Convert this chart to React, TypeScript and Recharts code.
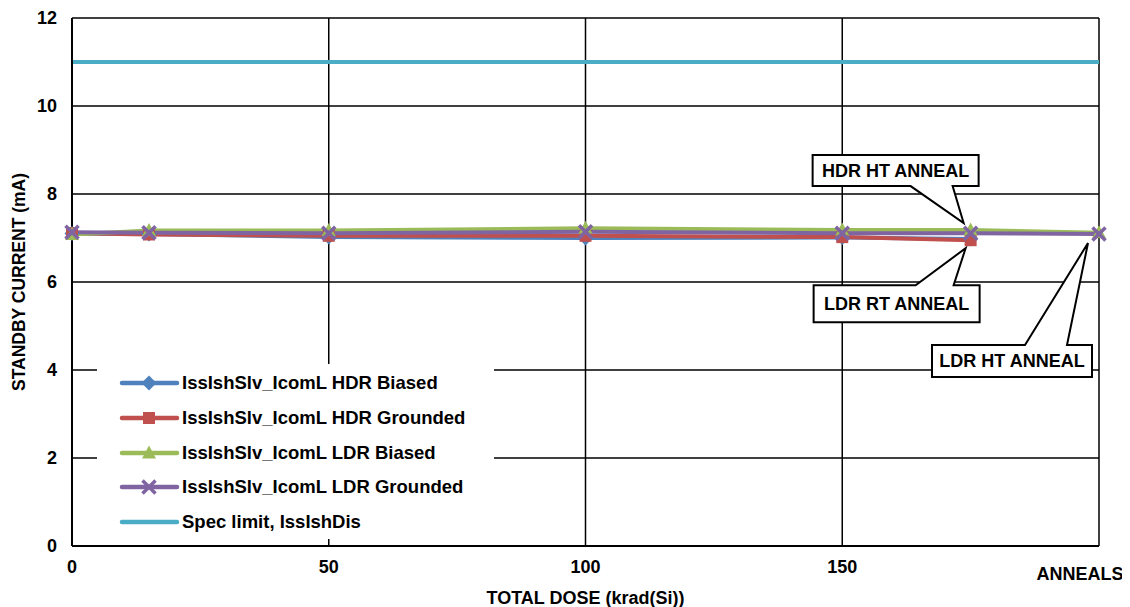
import React from 'react';
import { LineChart, Line, XAxis, YAxis, CartesianGrid, Legend, ReferenceDot } from 'recharts';

// ---- data ----
const doses = [0, 15, 50, 100, 150, 175, 200];
const hdrBiased = [7.1, 7.09, 7.02, 7.0, 7.01, 6.98, null];
const hdrGrounded = [7.11, 7.08, 7.05, 7.05, 7.02, 6.95, null];
const ldrBiased = [7.08, 7.17, 7.17, 7.22, 7.18, 7.18, 7.12];
const ldrGrounded = [7.13, 7.12, 7.11, 7.14, 7.11, 7.11, 7.09];
const specLimit = [11, 11, 11, 11, 11, 11, 11];

const seriesNames = [
  'IssIshSlv_IcomL HDR Biased',
  'IssIshSlv_IcomL HDR Grounded',
  'IssIshSlv_IcomL LDR Biased',
  'IssIshSlv_IcomL LDR Grounded',
  'Spec limit, IssIshDis',
];
const seriesKeys = ['hdrB', 'hdrG', 'ldrB', 'ldrG', 'spec'];
const seriesColors = ['#4F81BD', '#C0504D', '#9BBB59', '#8064A2', '#4BACC6'];

const xTicks = [0, 50, 100, 150, 200];
const xTickLabels = ['0', '50', '100', '150', 'ANNEALS'];
const yTicks = [0, 2, 4, 6, 8, 10, 12];

const annotations = [
  { text: 'HDR HT ANNEAL', x: 175, y: ldrBiased[5] },
  { text: 'LDR RT ANNEAL', x: 175, y: hdrGrounded[5] },
  { text: 'LDR HT ANNEAL', x: 200, y: ldrGrounded[6] },
];

const data = doses.map((d, i) => ({
  dose: d,
  hdrB: hdrBiased[i],
  hdrG: hdrGrounded[i],
  ldrB: ldrBiased[i],
  ldrG: ldrGrounded[i],
  spec: specLimit[i],
}));

const FONT = "'Liberation Sans', Arial, sans-serif";

// ---- markers ----
const marker = (idx: number, cx: number, cy: number, key?: any) => {
  const c = seriesColors[idx];
  if (cx == null || cy == null || isNaN(cx) || isNaN(cy)) return <g key={key} />;
  if (idx === 0)
    return <path key={key} d={`M${cx},${cy - 7.5}L${cx + 7.5},${cy}L${cx},${cy + 7.5}L${cx - 7.5},${cy}Z`} fill={c} />;
  if (idx === 1) return <rect key={key} x={cx - 6} y={cy - 6} width={12} height={12} fill={c} />;
  if (idx === 2) return <path key={key} d={`M${cx},${cy - 7.5}L${cx + 7},${cy + 5.5}L${cx - 7},${cy + 5.5}Z`} fill={c} />;
  if (idx === 3)
    return (
      <g key={key} stroke={c} strokeWidth={3.6}>
        <line x1={cx - 6.5} y1={cy - 6.5} x2={cx + 6.5} y2={cy + 6.5} />
        <line x1={cx - 6.5} y1={cy + 6.5} x2={cx + 6.5} y2={cy - 6.5} />
      </g>
    );
  return <g key={key} />;
};

const dotFor = (idx: number) => (p: any) => marker(idx, p.cx, p.cy, `${idx}-${p.index}`);

// ---- callouts ----
type Geo = { bx1: number; bx2: number; by1: number; by2: number; b1: number; b2: number; tx: number; ty: number; up: boolean };
const calloutGeo: Geo[] = [
  { bx1: -158, bx2: 8, by1: -75, by2: -44, b1: -60, b2: -18, tx: -7, ty: -7, up: true },
  { bx1: -157, bx2: 9, by1: 45, by2: 82, b1: -55, b2: -17, tx: -5, ty: 8, up: false },
  { bx1: -167, bx2: -7, by1: 111, by2: 143, b1: -74, b2: -32, tx: -11, ty: 9, up: false },
];

const Callout = (i: number) => (p: any) => {
  const { cx, cy } = p;
  const g = calloutGeo[i];
  const L = cx + g.bx1, R = cx + g.bx2, T = cy + g.by1, B = cy + g.by2;
  const tx = cx + g.tx, ty = cy + g.ty;
  const d = g.up
    ? `M${L},${T}L${R},${T}L${R},${B}L${cx + g.b2},${B}L${tx},${ty}L${cx + g.b1},${B}L${L},${B}Z`
    : `M${L},${T}L${cx + g.b1},${T}L${tx},${ty}L${cx + g.b2},${T}L${R},${T}L${R},${B}L${L},${B}Z`;
  return (
    <g>
      <path d={d} fill="#fff" stroke="#000" strokeWidth={2} strokeLinejoin="miter" />
      <text
        x={(L + R) / 2}
        y={(T + B) / 2}
        textAnchor="middle"
        dominantBaseline="central"
        fontFamily={FONT}
        fontWeight="bold"
        fontSize={18}
        fill="#000"
      >
        {annotations[i].text}
      </text>
    </g>
  );
};

// ---- ticks ----
const XTick = (p: any) => {
  const { x, y, payload } = p;
  const i = xTicks.indexOf(payload.value);
  const isLast = i === xTicks.length - 1;
  return (
    <text
      x={x + (isLast ? -19 : 0)}
      y={y + (isLast ? 7 : 0)}
      dy="0.71em"
      textAnchor="middle"
      fontFamily={FONT}
      fontWeight="bold"
      fontSize={18}
      fill="#000"
    >
      {xTickLabels[i]}
    </text>
  );
};

const YTick = (p: any) => {
  const { x, y, payload } = p;
  return (
    <text x={x} y={y} dy="0.355em" textAnchor="end" fontFamily={FONT} fontWeight="bold" fontSize={18} fill="#000">
      {payload.value}
    </text>
  );
};

const renderLegend = (props: any) => {
  const payload = props.payload || [];
  return (
    <div style={{ background: '#fff', width: 397, height: 175, boxSizing: 'border-box', paddingTop: 2 }}>
      {payload.map((item: any) => {
        const idx = seriesNames.indexOf(item.value);
        return (
          <div key={item.value} style={{ height: 34.7, display: 'flex', alignItems: 'center' }}>
            <svg width={85} height={20} style={{ flex: 'none' }}>
              <line x1={25} y1={10} x2={80} y2={10} stroke={seriesColors[idx]} strokeWidth={4.5} strokeLinecap="round" />
              {marker(idx, 52, 10)}
            </svg>
            <span style={{ fontFamily: FONT, fontWeight: 'bold', fontSize: 18.5, color: '#000', whiteSpace: 'nowrap' }}>
              {item.value}
            </span>
          </div>
        );
      })}
    </div>
  );
};

const YTitle = (p: any) => {
  const vb = p.viewBox || { x: 0, y: 10, width: 64, height: 528 };
  const x = vb.x + 11;
  const y = vb.y + vb.height / 2;
  return (
    <text
      x={x}
      y={y}
      transform={`rotate(-90, ${x}, ${y})`}
      textAnchor="middle"
      dominantBaseline="central"
      fontFamily={FONT}
      fontWeight="bold"
      fontSize={17.5}
      fill="#000"
    >
      STANDBY CURRENT (mA)
    </text>
  );
};

export default function App() {
  return (
    <LineChart width={1122} height={599} data={data} margin={{ top: 10, right: 31, left: 0, bottom: 0 }} style={{ overflow: 'visible' }}>
      <CartesianGrid stroke="#000" strokeWidth={1.5} />
      <XAxis
        dataKey="dose"
        type="number"
        domain={[0, 200]}
        ticks={xTicks}
        tick={<XTick />}
        tickSize={0}
        tickMargin={14}
        height={61}
        stroke="#000"
        strokeWidth={2}
        interval={0}
        label={{
          value: 'TOTAL DOSE (krad(Si))',
          position: 'insideBottom',
          offset: 3,
          fill: '#000',
          fontFamily: FONT,
          fontWeight: 'bold',
          fontSize: 18,
        }}
      />
      <YAxis
        type="number"
        domain={[0, 12]}
        ticks={yTicks}
        tick={<YTick />}
        tickSize={0}
        tickMargin={15}
        width={64}
        stroke="#000"
        strokeWidth={2}
        interval={0}
        label={{ content: <YTitle /> } as any}
      />
      <Legend
        layout="vertical"
        align="center"
        verticalAlign="middle"
        content={renderLegend}
        wrapperStyle={{ left: 89, top: 356, width: 397, height: 175 }}
      />
      {seriesKeys.map((k, i) => (
        <Line
          key={k}
          dataKey={k}
          name={seriesNames[i]}
          stroke={seriesColors[i]}
          strokeWidth={4}
          dot={i === 4 ? false : dotFor(i)}
          activeDot={false}
          isAnimationActive={false}
          type="linear"
        />
      ))}
      {annotations.map((a, i) => (
        <ReferenceDot key={a.text} x={a.x} y={a.y as number} r={0} ifOverflow="visible" shape={Callout(i)} />
      ))}
    </LineChart>
  );
}
